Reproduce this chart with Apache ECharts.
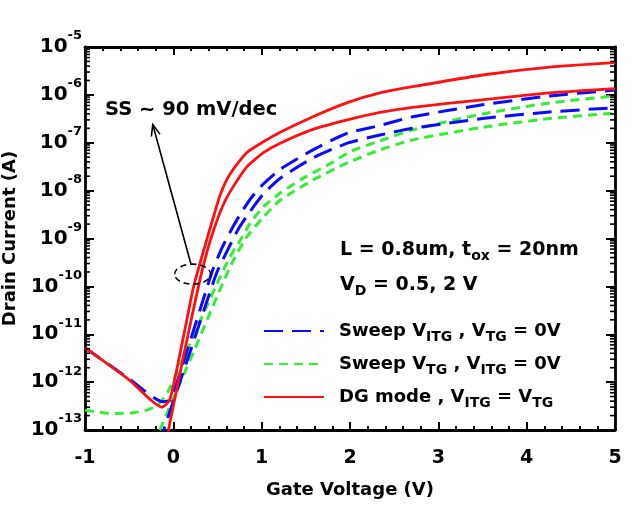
<!DOCTYPE html>
<html>
<head>
<meta charset="utf-8">
<script src="https://cdn.jsdelivr.net/npm/echarts@6.0.0/dist/echarts.min.js"></script>
<style>
html,body{margin:0;padding:0;background:#ffffff;}
#chart{width:639px;height:510px;}
</style>
</head>
<body>
<div id="chart"></div>
<script>
// ---------- values ----------
const xMin = -1, xMax = 5;
const yMin = 1e-13, yMax = 1e-5;
const yDecades = [-13, -12, -11, -10, -9, -8, -7, -6];
const minorMultipliers = [2, 3, 4, 5, 6, 7, 8, 9];

// Sweep V_ITG , V_TG = 0V  (blue, long dash)
const itgVd2V  = [-1.0, -0.5, -0.12, -0.03, 0.19, 0.38, 0.45, 0.56, 0.68, 0.79, 0.90, 1.02, 1.21, 1.58, 1.97, 2.34, 2.71, 3.5, 4.26, 5.0];
const itgVd2I  = [5.2e-12, 1.17e-12, 3.9e-13, 4.3e-13, 7.2e-12, 9.3e-11, 2.3e-10, 6.9e-10, 1.82e-9, 4.0e-9, 7.8e-9, 1.38e-8, 2.8e-8, 7.1e-8, 1.58e-7, 2.3e-7, 3.5e-7, 6.2e-7, 9.5e-7, 1.26e-6];
const itgVd05V = [-0.16, -0.117, 0.19, 0.49, 0.61, 0.73, 0.87, 1.02, 1.21, 1.58, 1.97, 2.34, 2.71, 3.5, 4.26, 5.0];
const itgVd05I = [5.0e-14, 9.1e-14, 4.3e-12, 1.9e-10, 5.5e-10, 1.51e-9, 3.7e-9, 8.5e-9, 1.82e-8, 4.8e-8, 9.8e-8, 1.45e-7, 2.0e-7, 3.2e-7, 4.4e-7, 5.4e-7];

// Sweep V_TG , V_ITG = 0V  (green, short dash)
const tgVd2V  = [-1.0, -0.8, -0.65, -0.45, -0.3, -0.18, -0.07, 0.19, 0.36, 0.53, 0.64, 0.76, 0.87, 1.02, 1.21, 1.47, 1.77, 2.0, 2.34, 2.71, 3.5, 4.26, 5.0];
const tgVd2I  = [2.6e-13, 2.3e-13, 2.2e-13, 2.3e-13, 2.6e-13, 3.3e-13, 5.9e-13, 6.6e-12, 3.2e-11, 1.58e-10, 4.1e-10, 9.3e-10, 2.1e-9, 4.6e-9, 8.9e-9, 1.82e-8, 3.6e-8, 6.5e-8, 1.1e-7, 1.86e-7, 4.0e-7, 6.8e-7, 9.5e-7];
const tgVd05V = [-0.2, -0.162, 0.19, 0.56, 0.68, 0.83, 1.02, 1.21, 1.58, 1.97, 2.34, 2.71, 3.5, 4.26, 5.0];
const tgVd05I = [5.0e-14, 9.1e-14, 2.9e-12, 1.17e-10, 3.5e-10, 1.07e-9, 2.8e-9, 6.3e-9, 1.66e-8, 3.8e-8, 7.1e-8, 1.15e-7, 2.1e-7, 3.2e-7, 4.2e-7];

// DG mode , V_ITG = V_TG  (red, solid)
const dgVd2V  = [-1.0, -0.5, -0.13, -0.04, 0.10, 0.22, 0.28, 0.36, 0.44, 0.53, 0.64, 0.83, 1.02, 1.21, 1.58, 1.97, 2.34, 2.71, 3.5, 4.26, 5.0];
const dgVd2I  = [5.2e-12, 1.12e-12, 3.0e-13, 4.3e-13, 6.6e-12, 8.3e-11, 2.2e-10, 7.2e-10, 2.3e-9, 8.1e-9, 2.2e-8, 6.2e-8, 1.05e-7, 1.66e-7, 3.5e-7, 6.9e-7, 1.1e-6, 1.48e-6, 2.6e-6, 3.8e-6, 4.7e-6];
const dgVd05V = [-0.10, -0.06, 0.13, 0.30, 0.38, 0.45, 0.55, 0.64, 0.83, 1.02, 1.21, 1.58, 1.97, 2.34, 2.71, 3.5, 4.26, 5.0];
const dgVd05I = [3.8e-14, 9.1e-14, 4.7e-12, 1.35e-10, 5.2e-10, 1.38e-9, 4.4e-9, 9.3e-9, 3.1e-8, 6.2e-8, 9.8e-8, 1.9e-7, 3.0e-7, 4.3e-7, 5.5e-7, 7.9e-7, 1.1e-6, 1.35e-6];

// ---------- chart ----------
const F = 'DejaVu Sans';
const BLUE = '#0a0aff', GREEN = '#33ee33', RED = '#ff1010';
const zip = (xs, ys) => xs.map((v, i) => [v, ys[i]]);

const legendText = {
  ITG: 'Sweep V{s|ITG} , V{s|TG} = 0V',
  TG:  'Sweep V{s|TG} , V{s|ITG} = 0V',
  DG:  'DG mode , V{s|ITG} = V{s|TG}'
};

function curve(name, xs, ys, color, type, width, z) {
  return {
    type: 'line', name: name, data: zip(xs, ys),
    xAxisIndex: 0, yAxisIndex: 0,
    symbol: 'none', showSymbol: false, smooth: 0.2,
    lineStyle: { color: color, width: width, type: type, cap: 'butt' },
    itemStyle: { color: color },
    emphasis: { disabled: true }, silent: true, animation: false, z: z
  };
}

const minorData = [];
yDecades.forEach(d => minorMultipliers.forEach(k => minorData.push([xMin, k * Math.pow(10, d)])));

const axisLineStyle = { color: '#000', width: 2.8 };
const tickStyle = { color: '#000', width: 2 };

const chart = echarts.init(document.getElementById('chart'), null, { renderer: 'canvas' });
const option = {
  animation: false,
  backgroundColor: '#ffffff',
  grid: { left: 85, right: 24, top: 47, bottom: 80, outerBoundsMode: 'none', containLabel: false },
  legend: {
    orient: 'vertical', left: 263, top: 322, padding: 0,
    itemWidth: 60, itemHeight: 14, itemGap: 11,
    data: ['ITG', 'TG', 'DG'],
    selectedMode: false,
    itemStyle: { opacity: 0, color: 'rgba(0,0,0,0)', borderWidth: 0 },
    formatter: n => legendText[n],
    textStyle: {
      fontFamily: F, fontWeight: 'bold', fontSize: 18, color: '#000', padding: [0, 0, 0, 10],
      rich: { s: { fontFamily: F, fontWeight: 'bold', fontSize: 14, color: '#000', padding: [12, 0, 0, 0] } }
    }
  },
  xAxis: [{
    type: 'value', min: xMin, max: xMax, interval: 1, position: 'bottom',
    name: 'Gate Voltage (V)', nameLocation: 'middle', nameGap: 51,
    nameTextStyle: { fontFamily: F, fontWeight: 'bold', fontSize: 18, color: '#000' },
    axisLine: { show: true, onZero: false, lineStyle: axisLineStyle },
    axisTick: { show: true, inside: true, length: 8, lineStyle: tickStyle },
    minorTick: { show: true, splitNumber: 5, length: 4, lineStyle: tickStyle },
    splitLine: { show: false }, minorSplitLine: { show: false },
    axisLabel: { fontFamily: F, fontWeight: 'bold', fontSize: 19, color: '#000', margin: 19 }
  }, {
    type: 'value', min: xMin, max: xMax, interval: 1, position: 'top',
    axisLine: { show: true, onZero: false, lineStyle: axisLineStyle },
    axisTick: { show: true, inside: true, length: 8, lineStyle: tickStyle },
    minorTick: { show: true, splitNumber: 5, length: 4, lineStyle: tickStyle },
    splitLine: { show: false }, axisLabel: { show: false }
  }],
  yAxis: [{
    type: 'log', logBase: 10, min: yMin, max: yMax, position: 'left',
    name: 'Drain Current (A)', nameLocation: 'middle', nameGap: 62, nameRotate: 90,
    nameTextStyle: { fontFamily: F, fontWeight: 'bold', fontSize: 18, color: '#000' },
    axisLine: { show: true, onZero: false, lineStyle: axisLineStyle },
    axisTick: { show: true, inside: true, length: 9, lineStyle: tickStyle },
    splitLine: { show: false },
    axisLabel: {
      margin: 3,
      formatter: v => '{b|10}{s|' + Math.round(Math.log10(v)) + '}',
      rich: {
        b: { fontFamily: F, fontWeight: 'bold', fontSize: 20, color: '#000' },
        s: { fontFamily: F, fontWeight: 'bold', fontSize: 13, color: '#000', padding: [0, 0, 22, 0] }
      }
    }
  }, {
    type: 'log', logBase: 10, min: yMin, max: yMax, position: 'right',
    axisLine: { show: true, onZero: false, lineStyle: axisLineStyle },
    axisTick: { show: true, inside: true, length: 9, lineStyle: tickStyle },
    splitLine: { show: false }, axisLabel: { show: false }
  }],
  series: [
    {
      type: 'custom', name: 'minor', xAxisIndex: 0, yAxisIndex: 0, data: minorData,
      silent: true, clip: false, z: 5,
      renderItem: (params, api) => {
        const v = api.value(1);
        const pL = api.coord([xMin, v]);
        const pR = api.coord([xMax, v]);
        return { type: 'group', children: [
          { type: 'line', shape: { x1: pL[0], y1: pL[1], x2: pL[0] + 5, y2: pL[1] }, style: { stroke: '#000', lineWidth: 1.6 } },
          { type: 'line', shape: { x1: pR[0], y1: pR[1], x2: pR[0] - 5, y2: pR[1] }, style: { stroke: '#000', lineWidth: 1.6 } }
        ] };
      }
    },
    curve('TG', tgVd05V, tgVd05I, GREEN, [9, 6], 3, 2),
    curve('TG', tgVd2V, tgVd2I, GREEN, [9, 6], 3, 2),
    curve('ITG', itgVd05V, itgVd05I, BLUE, [19, 9], 3, 3),
    curve('ITG', itgVd2V, itgVd2I, BLUE, [19, 9], 3, 3),
    curve('DG', dgVd05V, dgVd05I, RED, 'solid', 2.8, 4),
    curve('DG', dgVd2V, dgVd2I, RED, 'solid', 2.8, 4)
  ]
};
chart.setOption(option);

// ---------- annotations ----------
function px(v, i) { return chart.convertToPixel({ xAxisIndex: 0, yAxisIndex: 0 }, [v, i]); }
const ell = px(0.218, 1.8e-10);
const tail = px(0.20, 2.9e-10);
const tip = px(-0.233, 2.4e-7);
const ang = Math.atan2(tail[1] - tip[1], tail[0] - tip[0]);
const hl = 12, ha = 0.38;
const h1 = [tip[0] + hl * Math.cos(ang + ha), tip[1] + hl * Math.sin(ang + ha)];
const h2 = [tip[0] + hl * Math.cos(ang - ha), tip[1] + hl * Math.sin(ang - ha)];
const richSub = { s: { fontFamily: F, fontWeight: 'bold', fontSize: 14, fill: '#000', padding: [12, 0, 0, 0] } };

chart.setOption({
  graphic: [
    { type: 'ellipse', shape: { cx: ell[0], cy: ell[1], rx: 18, ry: 10 }, style: { fill: null, stroke: '#000', lineWidth: 1.6, lineDash: [6, 4] }, z: 10 },
    { type: 'line', shape: { x1: tail[0], y1: tail[1], x2: tip[0], y2: tip[1] }, style: { stroke: '#000', lineWidth: 1.6 }, z: 10 },
    { type: 'polyline', shape: { points: [h1, tip, h2] }, style: { fill: null, stroke: '#000', lineWidth: 1.6 }, z: 10 },
    { type: 'text', x: 105, y: 110, style: { text: 'SS ~ 90 mV/dec', fontFamily: F, fontWeight: 'bold', fontSize: 19.5, fill: '#000', verticalAlign: 'middle' }, z: 10 },
    { type: 'text', x: 340, y: 250, style: { text: 'L = 0.8um, t{s|ox} = 20nm', fontFamily: F, fontWeight: 'bold', fontSize: 19, fill: '#000', verticalAlign: 'middle', rich: richSub }, z: 10 },
    { type: 'text', x: 340, y: 285, style: { text: 'V{s|D} = 0.5, 2 V', fontFamily: F, fontWeight: 'bold', fontSize: 19, fill: '#000', verticalAlign: 'middle', rich: richSub }, z: 10 }
  ]
});
</script>
</body>
</html>
